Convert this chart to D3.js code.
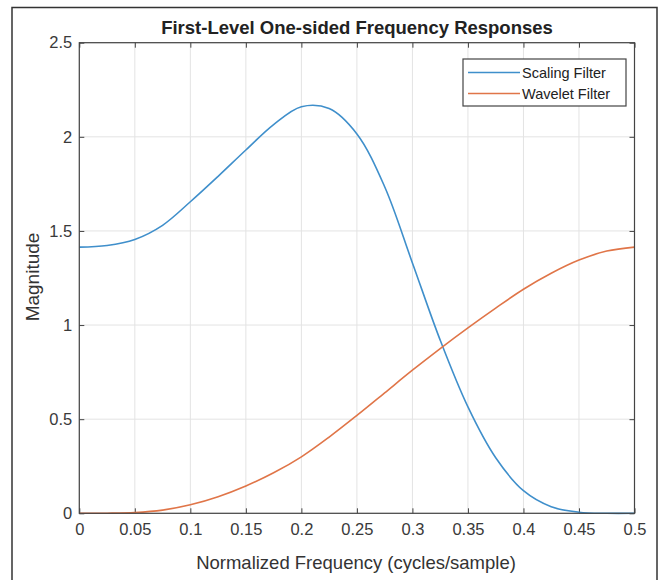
<!DOCTYPE html>
<html>
<head>
<meta charset="utf-8">
<script src="https://cdn.jsdelivr.net/npm/d3@7"></script>
<style>
  body { margin: 0; background: #fff; }
  svg { display: block; font-family: "Liberation Sans", Arial, sans-serif; }
</style>
</head>
<body>
<svg id="chart" width="662" height="580"></svg>
<script>
// ---- data ----
const freq = [0, 0.025, 0.05, 0.075, 0.1, 0.125, 0.15, 0.175, 0.2, 0.225, 0.25, 0.275, 0.3, 0.325, 0.35, 0.375, 0.4, 0.425, 0.45, 0.475, 0.5];
const scalingFilter = [1.414, 1.423, 1.455, 1.53, 1.655, 1.79, 1.93, 2.065, 2.16, 2.15, 2.015, 1.735, 1.33, 0.92, 0.565, 0.295, 0.12, 0.035, 0.006, 0.0, 0.0];
const waveletFilter = [0, 0.0005, 0.004, 0.017, 0.045, 0.088, 0.145, 0.215, 0.30, 0.405, 0.52, 0.64, 0.76, 0.875, 0.985, 1.09, 1.19, 1.275, 1.345, 1.393, 1.414];
const xTicks = [0, 0.05, 0.1, 0.15, 0.2, 0.25, 0.3, 0.35, 0.4, 0.45, 0.5];
const yTicks = [0, 0.5, 1, 1.5, 2, 2.5];
const seriesNames = ["Scaling Filter", "Wavelet Filter"];
const seriesColors = ["#3f8fcb", "#e07548"];

const title = "First-Level One-sided Frequency Responses";
const xLabel = "Normalized Frequency (cycles/sample)";
const yLabel = "Magnitude";

// ---- layout ----
const svg = d3.select("#chart");
const L = 79.3, R = 634.5, T = 42.7, B = 513.3;

// outer figure frame
svg.append("rect").attr("x", 12).attr("y", 7.5).attr("width", 645).attr("height", 600)
  .attr("fill", "none").attr("stroke", "#333").attr("stroke-width", 1.5);

const x = d3.scaleLinear().domain([0, 0.5]).range([L, R]);
const y = d3.scaleLinear().domain([0, 2.5]).range([B, T]);

// grid
const grid = svg.append("g");
grid.selectAll("line.gx").data(xTicks).join("line")
  .attr("x1", d => x(d)).attr("x2", d => x(d)).attr("y1", T).attr("y2", B)
  .attr("stroke", "#e3e3e3").attr("stroke-width", 1);
grid.selectAll("line.gy").data(yTicks).join("line")
  .attr("y1", d => y(d)).attr("y2", d => y(d)).attr("x1", L).attr("x2", R)
  .attr("stroke", "#e3e3e3").attr("stroke-width", 1);

// axes (inward ticks, MATLAB style)
const tickColor = "#444";
const xAxis = d3.axisBottom(x).tickValues(xTicks).tickSizeInner(-5).tickSizeOuter(0)
  .tickPadding(12).tickFormat(d => d3.format("")(d));
const yAxis = d3.axisLeft(y).tickValues(yTicks).tickSizeInner(-5).tickSizeOuter(0)
  .tickPadding(7).tickFormat(d => d3.format("")(d));
const xTop = d3.axisTop(x).tickValues(xTicks).tickSizeInner(-5).tickSizeOuter(0).tickFormat("");
const yRight = d3.axisRight(y).tickValues(yTicks).tickSizeInner(-5).tickSizeOuter(0).tickFormat("");

function styleAxis(g) {
  g.select(".domain").remove();
  g.selectAll(".tick line").attr("stroke", tickColor);
  g.selectAll(".tick text").attr("fill", "#3a3a3a").attr("font-size", 16.5);
}
svg.append("g").attr("transform", `translate(0,${B})`).call(xAxis).call(styleAxis)
  .selectAll(".tick text").attr("dy", "0.6em");
svg.append("g").attr("transform", `translate(${L},0)`).call(yAxis).call(styleAxis);
svg.append("g").attr("transform", `translate(0,${T})`).call(xTop).call(styleAxis);
svg.append("g").attr("transform", `translate(${R},0)`).call(yRight).call(styleAxis);

// lines
const series = [scalingFilter, waveletFilter];
const line = d3.line().x((d, i) => x(freq[i])).y(d => y(d)).curve(d3.curveCatmullRom.alpha(0.5));
svg.append("g").selectAll("path").data(series).join("path")
  .attr("d", d => line(d)).attr("fill", "none")
  .attr("stroke", (d, i) => seriesColors[i]).attr("stroke-width", 1.6);

// box
svg.append("rect").attr("x", L).attr("y", T).attr("width", R - L).attr("height", B - T)
  .attr("fill", "none").attr("stroke", "#444").attr("stroke-width", 1.2);

// title and labels
svg.append("text").attr("x", 357).attr("y", 34).attr("text-anchor", "middle")
  .attr("font-size", 18.5).attr("font-weight", "bold").attr("fill", "#222").text(title);
svg.append("text").attr("x", 356).attr("y", 569).attr("text-anchor", "middle")
  .attr("font-size", 18.5).attr("fill", "#333").text(xLabel);
svg.append("text").attr("transform", `translate(39,${277}) rotate(-90)`)
  .attr("text-anchor", "middle").attr("font-size", 19).attr("fill", "#333").text(yLabel);

// legend
const lg = svg.append("g");
lg.append("rect").attr("x", 463).attr("y", 59).attr("width", 163).attr("height", 47)
  .attr("fill", "#fff").attr("stroke", "#444").attr("stroke-width", 1.2);
seriesNames.forEach((name, i) => {
  const yy = 72.5 + i * 21;
  lg.append("line").attr("x1", 468).attr("x2", 520).attr("y1", yy).attr("y2", yy)
    .attr("stroke", seriesColors[i]).attr("stroke-width", 1.6);
  lg.append("text").attr("x", 522).attr("y", yy).attr("dy", "0.35em")
    .attr("font-size", 14.5).attr("fill", "#222").text(name);
});
</script>
</body>
</html>
